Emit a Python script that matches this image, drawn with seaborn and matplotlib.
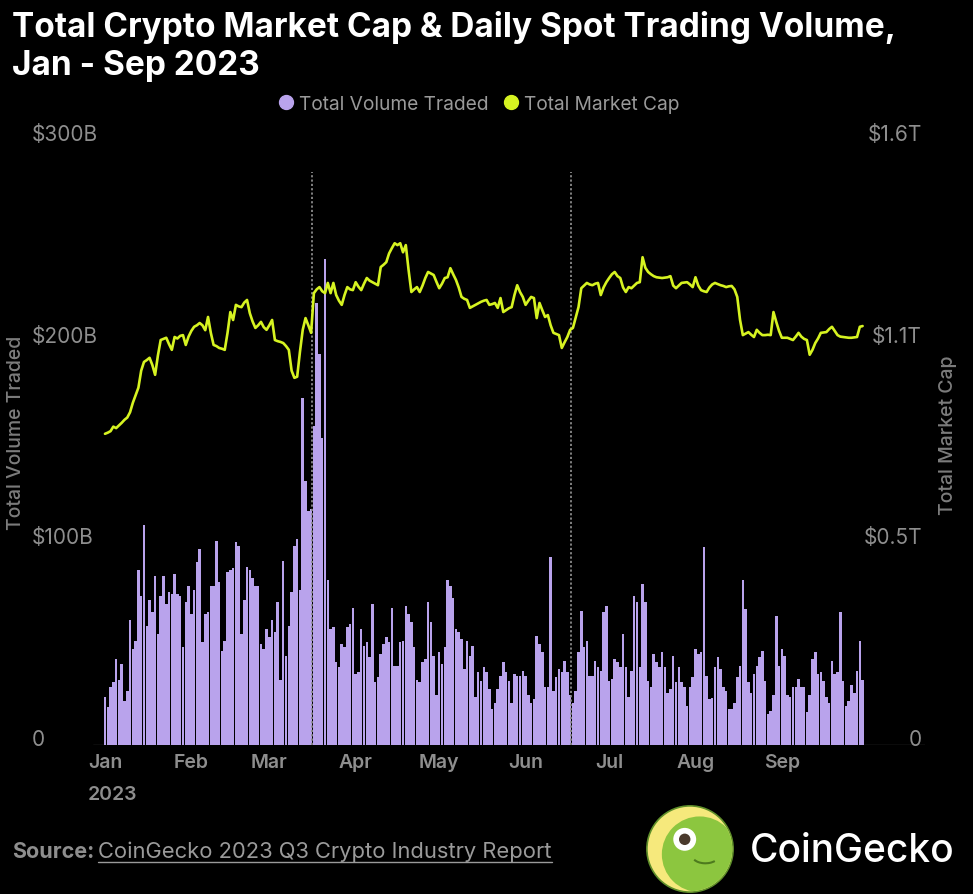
import numpy as np
import pandas as pd
import seaborn as sns
import matplotlib.pyplot as plt
import matplotlib.dates as mdates
from matplotlib.lines import Line2D
from matplotlib.patches import Circle, Arc

# data (one value per day, Jan 1 - Sep 30 2023)
dates = pd.date_range("2023-01-01", "2023-09-30", freq="D")

volume_billion = [
    23.8, 19, 29, 31, 42.5, 32, 40, 22, 27, 62,
    47.5, 51.5, 87, 74, 109, 59, 72, 66, 84, 55,
    74, 84, 70, 76, 75, 85, 75, 74, 48.5, 71,
    79, 65, 77, 90.5, 97, 51, 65, 66, 79, 79,
    101, 81, 46.5, 51.5, 86, 87, 88, 100.5, 98.5, 55,
    72, 88.5, 87, 83, 79, 79, 50, 47.5, 57.5, 53.5,
    62, 56, 71, 32, 91, 44, 59, 76, 98.5, 102,
    77, 172, 131, 116, 117, 158, 219, 194, 152, 241,
    82, 57.5, 58.5, 41, 38.6, 50, 48.5, 58.5, 60, 68,
    35, 36, 57.5, 49, 51, 43.5, 70, 31, 33.7, 45,
    50, 53.5, 51, 68, 39, 39, 51, 51.5, 69, 65,
    61, 48.5, 32, 31, 41, 42.5, 71, 61, 44, 25,
    46, 40, 48.5, 82, 79, 73, 57.5, 56, 52.5, 37.6,
    51.5, 44, 49, 23.8, 36, 31.7, 38.6, 36, 27.7, 17.8,
    21, 27.7, 34, 41, 36, 31.7, 21, 35, 34, 34,
    36.6, 34, 25, 21, 22.8, 54, 50, 46, 28.7, 28.7,
    93, 26.7, 33.7, 37.6, 36, 41.6, 36, 25, 21, 26.7,
    46, 66.3, 48.5, 51.5, 34, 34, 41.6, 38.6, 36.6, 65.8,
    69, 31.7, 32.7, 42.6, 41, 38.6, 55, 38.6, 23.8, 36.6,
    74, 71, 38.6, 79.7, 70.8, 31.7, 29, 45, 41, 38.6,
    46, 38.6, 26, 27.7, 44, 31, 38.6, 31, 28.7, 19.3,
    29, 33.7, 47.5, 45, 46, 98, 34, 22.8, 23.3, 38.6,
    43.6, 37.6, 29, 26.7, 17.8, 17.8, 21, 33.7, 39, 82,
    67.3, 31, 26, 35, 39, 43.6, 46.5, 31.7, 15.3, 16.8,
    25, 64, 39, 47.5, 44, 25, 23.8, 29, 29, 32.7,
    28.7, 29, 16.3, 25, 42.6, 46, 35, 36, 31.7, 23.8,
    21, 41.6, 35, 36, 65.8, 31.7, 19.3, 21.8, 30, 26,
    36.6, 51.5, 32,
]

market_cap_trillion = [
    0.823, 0.826, 0.830, 0.842, 0.838, 0.845, 0.852, 0.860, 0.866, 0.880,
    0.905, 0.925, 0.945, 0.990, 1.013, 1.018, 1.024, 1.005, 0.979, 1.030,
    1.071, 1.074, 1.077, 1.060, 1.045, 1.079, 1.075, 1.082, 1.084, 1.058,
    1.080, 1.095, 1.106, 1.110, 1.116, 1.110, 1.097, 1.132, 1.090, 1.058,
    1.055, 1.050, 1.048, 1.045, 1.090, 1.145, 1.124, 1.164, 1.160, 1.158,
    1.170, 1.177, 1.142, 1.120, 1.103, 1.110, 1.119, 1.105, 1.098, 1.110,
    1.124, 1.071, 1.068, 1.066, 1.063, 1.055, 1.045, 0.990, 0.971, 0.974,
    1.040, 1.098, 1.129, 1.110, 1.090, 1.195, 1.205, 1.211, 1.200, 1.195,
    1.222, 1.195, 1.222, 1.190, 1.175, 1.164, 1.190, 1.211, 1.205, 1.203,
    1.224, 1.212, 1.203, 1.220, 1.235, 1.228, 1.224, 1.220, 1.216, 1.264,
    1.270, 1.277, 1.300, 1.314, 1.327, 1.322, 1.327, 1.303, 1.322, 1.256,
    1.198, 1.205, 1.211, 1.198, 1.215, 1.235, 1.251, 1.247, 1.243, 1.225,
    1.208, 1.220, 1.235, 1.237, 1.261, 1.245, 1.230, 1.210, 1.185, 1.180,
    1.177, 1.156, 1.160, 1.164, 1.168, 1.172, 1.175, 1.177, 1.164, 1.166,
    1.169, 1.156, 1.182, 1.145, 1.150, 1.155, 1.158, 1.190, 1.216, 1.198,
    1.185, 1.164, 1.175, 1.185, 1.182, 1.129, 1.169, 1.150, 1.132, 1.137,
    1.110, 1.090, 1.087, 1.084, 1.050, 1.065, 1.079, 1.098, 1.103, 1.130,
    1.158, 1.208, 1.215, 1.222, 1.218, 1.216, 1.220, 1.222, 1.190, 1.210,
    1.224, 1.235, 1.245, 1.251, 1.240, 1.235, 1.210, 1.198, 1.211, 1.208,
    1.215, 1.222, 1.224, 1.290, 1.262, 1.251, 1.245, 1.240, 1.237, 1.236,
    1.235, 1.236, 1.237, 1.240, 1.215, 1.208, 1.215, 1.222, 1.223, 1.224,
    1.218, 1.211, 1.237, 1.215, 1.203, 1.200, 1.198, 1.210, 1.218, 1.222,
    1.219, 1.216, 1.214, 1.211, 1.213, 1.214, 1.205, 1.185, 1.124, 1.084,
    1.088, 1.092, 1.085, 1.079, 1.098, 1.090, 1.084, 1.084, 1.085, 1.084,
    1.145, 1.119, 1.095, 1.077, 1.077, 1.077, 1.074, 1.071, 1.080, 1.090,
    1.080, 1.074, 1.071, 1.032, 1.045, 1.063, 1.075, 1.090, 1.091, 1.092,
    1.100, 1.106, 1.095, 1.084, 1.080, 1.079, 1.078, 1.077, 1.077, 1.078,
    1.079, 1.106, 1.108,
]

event_dates = ["2023-03-16 08:00", "2023-06-17 08:00"]

series_labels = ["Total Volume Traded", "Total Market Cap"]
volume_ticks = [0, 100, 200, 300]
volume_tick_labels = ["0", "$100B", "$200B", "$300B"]
cap_ticks = [0, 1.6 / 3, 3.2 / 3, 1.6]
cap_tick_labels = ["0", "$0.5T", "$1.1T", "$1.6T"]

title = "Total Crypto Market Cap & Daily Spot Trading Volume,\nJan - Sep 2023"

BAR_COLOR = "#b9a3ec"
LINE_COLOR = "#d6f321"
GREY = "#8e8e8e"

df = pd.DataFrame({
    "x": mdates.date2num(dates),
    "volume": volume_billion,
    "cap": market_cap_trillion,
})

sns.set_theme(style="dark", rc={"axes.facecolor": "black",
                                "figure.facecolor": "black"})
plt.rcParams["font.family"] = ["Inter", "DejaVu Sans"]

W, H = 973, 895
fig = plt.figure(figsize=(W / 100, H / 100), dpi=100)
ax = fig.add_axes([93 / W, 149 / H, (925 - 93) / W, 605 / H])

sns.barplot(data=df, x="x", y="volume", native_scale=True, color=BAR_COLOR,
            saturation=1, width=0.9, errorbar=None, ax=ax, zorder=2,
            linewidth=0, edgecolor="none")

ax2 = ax.twinx()
sns.lineplot(data=df, x="x", y="cap", color=LINE_COLOR, linewidth=1.9, ax=ax2)

start = df["x"].iloc[0]
ax.set_xlim(start - 4.3, start + 294.4)
ax.set_ylim(0, 300)
ax2.set_ylim(0, 1.6)

for d in event_dates:
    ax.axvline(mdates.date2num(pd.Timestamp(d)), ymax=0.947, color="#8a8a8a",
               linestyle=(0, (1.2, 1.2)), linewidth=1.3, zorder=3)
ax.axhline(0, color="#3a3a3a", linewidth=1, zorder=1)

for a in (ax, ax2):
    a.grid(False)
    a.set_xlabel("")
    a.set_ylabel("")
    for s in a.spines.values():
        s.set_visible(False)

# x axis: month names
ax.xaxis.set_major_locator(mdates.MonthLocator(bymonth=range(1, 10)))
ax.xaxis.set_major_formatter(mdates.DateFormatter("%b"))
ax.tick_params(axis="x", length=0, pad=6, labelsize=14, labelcolor=GREY)
for t in ax.get_xticklabels():
    t.set_fontweight("semibold")
ax.annotate("2023", xy=(start, 0), xycoords=("data", "axes fraction"),
            xytext=(-17, -49), textcoords="offset pixels", ha="left",
            va="center", fontsize=14, fontweight="semibold", color=GREY)

# y axes
ax.set_yticks(volume_ticks, labels=volume_tick_labels)
ax.tick_params(axis="y", length=0, pad=61 * 0.72, labelsize=15, labelcolor=GREY)
plt.setp(ax.get_yticklabels(), ha="left", va="baseline")
ax2.set_yticks(cap_ticks, labels=cap_tick_labels)
ax2.tick_params(axis="y", length=0, pad=-3 * 0.72, labelsize=15, labelcolor=GREY)
plt.setp(ax2.get_yticklabels(), ha="right", va="baseline")

fig.text(16 / W, 1 - 433 / H, series_labels[0], rotation=90, ha="center",
         va="center", fontsize=14, color="#7c7c7c", fontweight="medium")
fig.text(948 / W, 1 - 435 / H, series_labels[1], rotation=90, ha="center",
         va="center", fontsize=14, color="#7c7c7c", fontweight="medium")

# title & legend
fig.text(12 / W, 1 - 11 / H, title, ha="left", va="top", fontsize=24,
         fontweight="bold", color="white", linespacing=1.22)
handles = [Line2D([], [], marker="o", ls="", color=BAR_COLOR, markersize=10),
           Line2D([], [], marker="o", ls="", color=LINE_COLOR, markersize=10)]
fig.legend(handles, series_labels, loc="center",
           bbox_to_anchor=(478 / W, 1 - 105 / H), ncol=2, frameon=False,
           fontsize=13.8, labelcolor="#9a9a9a", handletextpad=0.15,
           columnspacing=0.7, handlelength=1.0)

# footer
fig.text(12 / W, 1 - 852 / H, "Source:", ha="left", va="center", fontsize=15.5,
         fontweight="bold", color=GREY)
link = fig.text(98 / W, 1 - 852 / H, "CoinGecko 2023 Q3 Crypto Industry Report",
                ha="left", va="center", fontsize=15.8, color="#9a9a9a")
fig.canvas.draw()
bb = link.get_window_extent(fig.canvas.get_renderer())
fig.add_artist(Line2D([bb.x0 / W, bb.x1 / W], [(bb.y0 - 1) / H, (bb.y0 - 1) / H],
                      transform=fig.transFigure, color="#9a9a9a", linewidth=1))

fig.text(750 / W, 1 - 852 / H, "CoinGecko", ha="left", va="center",
         fontsize=28, fontweight="medium", color="white")

logo = fig.add_axes([643 / W, 1 / H, 94 / W, 88 / H])
logo.set_xlim(-1, 1)
logo.set_ylim(-1, 1)
logo.set_aspect("equal")
logo.axis("off")
logo.add_patch(Circle((0, 0), 0.98, fc="#f6e97c", ec="#5f8f2a", lw=1.2))
head = Circle((0.22, -0.12), 0.86, fc="#8cc63f", ec="none")
logo.add_patch(head)
head.set_clip_path(Circle((0, 0), 0.96, transform=logo.transData))
logo.add_patch(Circle((-0.12, 0.22), 0.26, fc="white", ec="none"))
logo.add_patch(Circle((-0.12, 0.22), 0.13, fc="#4a3a2c", ec="none"))
logo.add_patch(Arc((0.35, -0.15), 0.6, 0.35, theta1=200, theta2=330,
                   color="#4d7a1e", lw=1.5))

fig.savefig("out.png", dpi=100, facecolor="black")
